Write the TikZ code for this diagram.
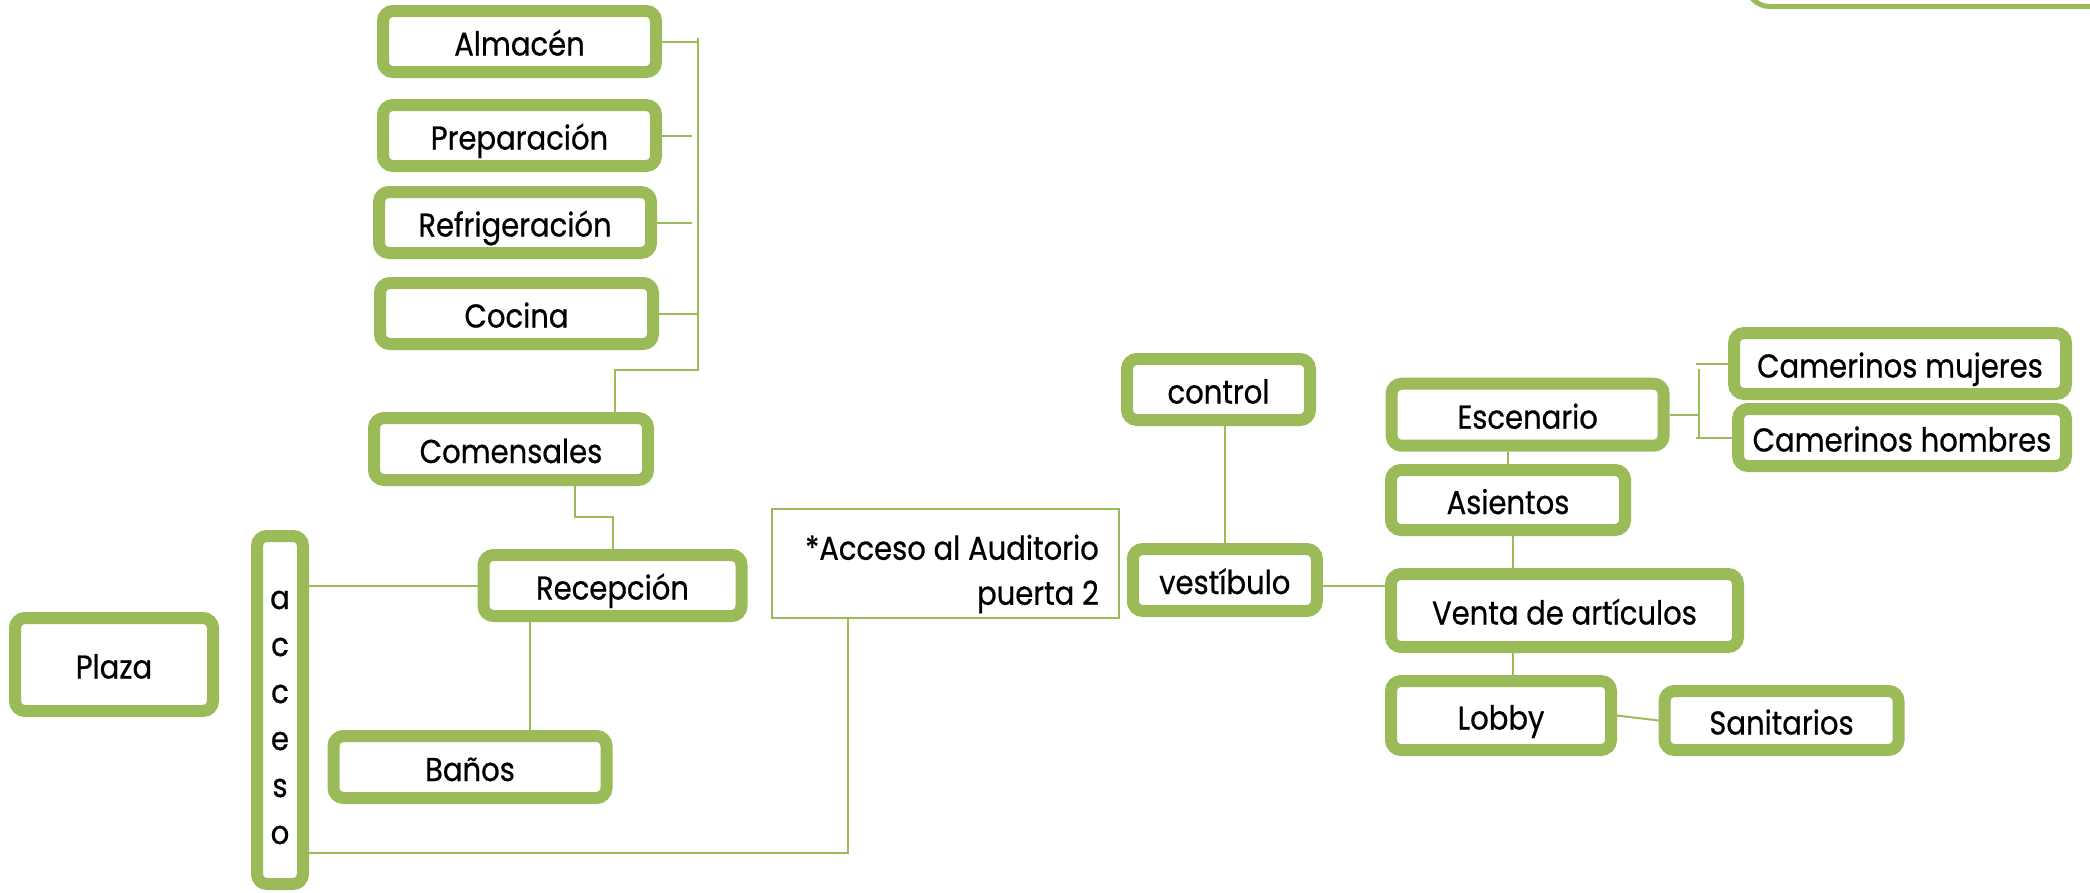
\documentclass[tikz,border=0pt]{standalone}
\usepackage{fontspec}
\setmainfont{Poppins}[FakeStretch=0.88, FakeBold=0.6]
\definecolor{olivegreen}{HTML}{9BBB59}
\begin{document}
\begin{tikzpicture}[x=1pt,y=-1pt,
  box/.style={draw=olivegreen, line width=12pt, rounded corners=10pt, fill=white,
    inner sep=0pt, text height=28pt, text depth=0pt,
    font=\fontsize{33}{39}\selectfont},
  thinbox/.style={draw=olivegreen, line width=2pt, fill=white, inner sep=0pt},
  con/.style={draw=olivegreen, line width=2pt}]
\useasboundingbox (0,0) rectangle (2090,892);

% partial box at the top right
\begin{scope}
\clip (0,0) rectangle (2090,892);
\draw[olivegreen, line width=5pt, rounded corners=24pt] (1746,-60) -- (1746,6.5) -- (2200,6.5);
\end{scope}

% kitchen group
\node[box, minimum width=273pt, minimum height=61pt] (alm)  at (519.5,41.5)  {Almacén};
\node[box, minimum width=273pt, minimum height=61pt] (prep) at (519.5,135.5) {Preparación};
\node[box, minimum width=272pt, minimum height=61pt] (refr) at (515,222.5)   {Refrigeración};
\node[box, minimum width=273pt, minimum height=61pt] (coc)  at (516.5,313.5) {Cocina};
\node[box, minimum width=274pt, minimum height=62pt] (com)  at (511,449)     {Comensales};
\node[box, minimum width=258pt, minimum height=61pt] (rec)  at (612.5,585.5) {Recepción};
\node[box, minimum width=273pt, minimum height=62pt] (ban)  at (470,767)     {Baños};
\node[box, minimum width=198pt, minimum height=93pt] (pla)  at (114,664.5)   {Plaza};
\node[box, minimum width=46pt, minimum height=348pt] (acc)  at (280,710)     {};
\node[inner sep=0pt, align=center, font=\fontsize{33}{47}\selectfont] (accT) at (280,717.5)
  {a\\c\\c\\e\\s\\o};

% auditorium note
\node[thinbox, minimum width=347pt, minimum height=109pt] (aud) at (945.5,563.5) {};
\node[inner sep=0pt, align=right, anchor=east, font=\fontsize{33}{45}\selectfont] (audT) at (1099,574)
  {*Acceso al Auditorio\\puerta 2};

% auditorium group
\node[box, minimum width=183pt, minimum height=61pt] (ctl)  at (1218.5,389.5) {control};
\node[box, minimum width=184pt, minimum height=62pt] (ves)  at (1224.8,580)   {vestíbulo};
\node[box, minimum width=272pt, minimum height=62pt] (esc)  at (1527.6,414.7) {Escenario};
\node[box, minimum width=332pt, minimum height=61pt] (cmm)  at (1900,363.5)   {Camerinos mujeres};
\node[box, minimum width=328pt, minimum height=57pt] (cmh)  at (1902,437.5)   {Camerinos hombres};
\node[box, minimum width=234pt, minimum height=60pt] (asi)  at (1508,500)     {Asientos};
\node[box, minimum width=347pt, minimum height=73pt] (ven)  at (1564.5,610.5) {Venta de artículos};
\node[box, minimum width=220pt, minimum height=69pt] (lob)  at (1501,715.5)   {Lobby};
\node[box, minimum width=234pt, minimum height=59pt] (san)  at (1781.5,720.5) {Sanitarios};

% helper coordinates
\coordinate (b1)  at (698,38);
\coordinate (b2)  at (698,370);
\coordinate (b3)  at (615,370);
\coordinate (b1s) at (692,0);
\coordinate (c1)  at (575,517);
\coordinate (c2)  at (613,517);
\coordinate (rb)  at (529.6,0);
\coordinate (a1)  at (848,853);
\coordinate (a2)  at (0,586);
\coordinate (vx)  at (1513,0);
\coordinate (e1)  at (1698.5,414.7);
\coordinate (e2)  at (1698.5,369);
\coordinate (e3)  at (1698.5,437);
\coordinate (e4)  at (1696,0);

% connectors
\draw[con] (alm.east) -- (alm.east -| b1);
\draw[con] (prep.east) -- (prep.east -| b1s);
\draw[con] (refr.east) -- (refr.east -| b1s);
\draw[con] (coc.east) -- (coc.east -| b1);
\draw[con] (b1) -- (b2) -- (b3) -- (com.north -| b3);
\draw[con] (com.south -| c1) -- (c1) -- (c2) -- (rec.north -| c2);
\draw[con] (rec.west |- a2) -- (acc.east |- a2);
\draw[con] (rec.south -| rb) -- (ban.north -| rb);
\draw[con] (acc.east |- a1) -- (a1) -- (a1 |- aud.south);
\draw[con] (ctl.south -| ves.north) -- (ves.north);
\draw[con] (ves.east |- a2) -- (ven.west |- a2);
\draw[con] (esc.east) -- (e1);
\draw[con] (e2) -- (e3);
\draw[con] (cmm.west) -- (cmm.west -| e4);
\draw[con] (cmh.west) -- (cmh.west -| e4);
\draw[con] (asi.north) -- (asi.north |- esc.south);
\draw[con] (asi.south -| vx) -- (ven.north -| vx);
\draw[con] (ven.south -| vx) -- (lob.north -| vx);
\draw[con] (lob.east) -- (san.west);
\end{tikzpicture}
\end{document}
